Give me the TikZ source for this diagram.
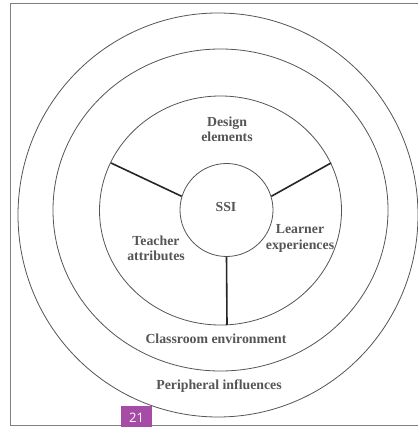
\documentclass[tikz,border=0pt]{standalone}
\usepackage{fontspec}
\setmainfont{Liberation Serif}
\newfontfamily\badgefont{Open Sans}
\definecolor{txtgray}{HTML}{555555}
\definecolor{ringgray}{HTML}{555555}
\definecolor{framegray}{HTML}{808080}
\definecolor{badgepurple}{HTML}{A64CA6}
\begin{document}
\begin{tikzpicture}[x=1pt,y=-1pt,
  ring/.style={draw=ringgray,line width=0.8pt},
  spoke/.style={draw=black!85,line width=1.6pt},
  lbl/.style={text=txtgray,font=\fontsize{13.8}{15.5}\selectfont\bfseries,align=center,inner sep=0pt}]
\useasboundingbox (0,0) rectangle (417,427);
\fill[white] (0,0) rectangle (417,427);
\draw[framegray,line width=1pt] (10,4) rectangle (430,425);
% rings
\draw[ring] (218,215) ellipse [x radius=200,y radius=202];
\draw[ring] (220.5,210) ellipse [x radius=167.5,y radius=161];
\draw[ring] (220.5,210.5) ellipse [x radius=121,y radius=114.5];
\node[ring,circle,minimum size=93pt,inner sep=0pt] (ssi) at (226.5,210) {};
% spoke ends
\coordinate (tl) at (111,163);
\coordinate (tr) at (331,163);
\coordinate (bt) at (227,325);
\draw[spoke] (tl) -- (ssi.163);
\draw[spoke] (tr) -- (ssi.17);
\draw[spoke] (bt) -- (ssi.south);
% labels
\node[lbl] (ssil) at (226,207) {SSI};
\node[lbl] (design) at (227,129.5) {Design\\elements};
\node[lbl] (learner) at (300,238.5) {Learner\\experiences};
\node[lbl] (teacher) at (156,248.5) {Teacher\\attributes};
\node[lbl] (class) at (216,339) {Classroom environment};
\node[lbl] (periph) at (219,386) {Peripheral influences};
% badge
\fill[badgepurple] (121,406) rectangle (152,430);
\node[text=white,font=\badgefont\fontsize{13}{13}\selectfont,inner sep=0pt] (badge) at (136.5,418) {21};
\end{tikzpicture}
\end{document}
